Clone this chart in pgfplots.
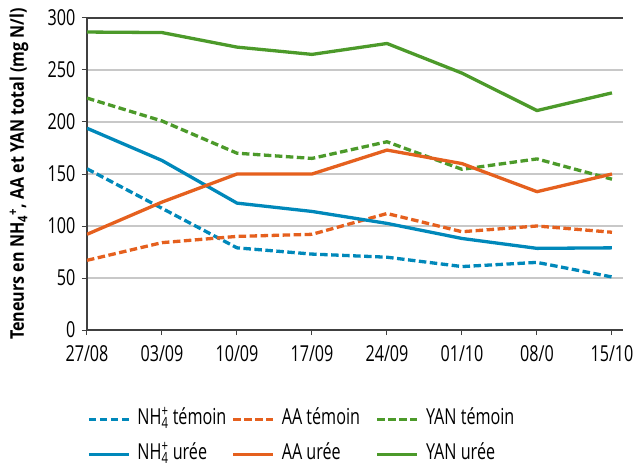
\documentclass[border=0pt]{standalone}
\usepackage{fontspec}
\setmainfont{Open Sans}[FakeStretch=0.735]
\newfontfamily\labfont{Open Sans}[FakeStretch=0.85]
\usepackage{pgfplots}
\pgfplotsset{compat=1.18}
\definecolor{cblue}{RGB}{0,136,186}
\definecolor{corange}{RGB}{229,96,30}
\definecolor{cgreen}{RGB}{76,154,42}
\definecolor{axgray}{RGB}{64,64,64}
\definecolor{grgray}{RGB}{200,200,200}
\newcommand\lent[1]{\makebox[87bp][l]{#1}}
\begin{document}
\begin{tikzpicture}
\path[use as bounding box] (-87bp,-135bp) rectangle (549bp,330bp);
\begin{axis}[
  at={(0,0)}, anchor=south west,
  scale only axis, width=536bp, height=312bp,
  xmin=0, xmax=7.147, ymin=0, ymax=300,
  xtick={0,...,7},
  xticklabels={27/08,03/09,10/09,17/09,24/09,01/10,08/0,15/10},
  ytick={0,50,...,300},
  axis x line*=bottom, axis y line*=left,
  axis line style={axgray, line width=1.4bp},
  tick align=outside, major tick length=5bp,
  tick style={axgray, line width=1bp},
  ymajorgrids, grid style={grgray, line width=1.2bp},
  /pgf/number format/assume math mode=true,
  ticklabel style={font=\fontsize{22bp}{25bp}\selectfont},
  xticklabel style={yshift=-7bp},
  yticklabel style={xshift=-3bp},
  ylabel={\textbf{Teneurs en NH\textsubscript{4}\textsuperscript{+}, AA et YAN total (mg N/l)}},
  ylabel style={at={(axis description cs:-0.1269,0.5)}, anchor=center, font=\labfont\fontsize{18.9bp}{22bp}\selectfont},
  every axis plot/.append style={line width=3.3bp, line join=round, no markers},
  legend columns=3,
  legend style={at={(rel axis cs:0,0)}, anchor=north west, yshift=-80bp,
    draw=none, fill=none, inner sep=0pt, row sep=17bp,
    font=\fontsize{22bp}{25bp}\selectfont,
    nodes={inner sep=0pt, text height=14bp, text depth=4bp, anchor=west},
    /tikz/every odd column/.append style={column sep=7bp},
    /tikz/every even column/.append style={column sep=7bp}},
  legend image code/.code={\draw[#1] (0bp,0bp) -- (40bp,0bp);},
]
\draw[axgray, line width=1.4bp] (rel axis cs:0,1) -- (rel axis cs:1,1);
\addplot[cblue, dash pattern=on 7.5bp off 3.5bp] coordinates {(0,155) (1,117) (2,79) (3,73) (4,70) (5,61) (6,65) (7,51)};
\addlegendentry{\lent{NH\rlap{\textsuperscript{+}}\textsubscript{4} témoin}}
\addplot[corange, dash pattern=on 7.5bp off 3.5bp] coordinates {(0,67) (1,84) (2,90) (3,92) (4,112) (5,94.5) (6,100) (7,94)};
\addlegendentry{\lent{AA témoin}}
\addplot[cgreen, dash pattern=on 7.5bp off 3.5bp] coordinates {(0,223) (1,201) (2,170) (3,165) (4,181) (5,154.5) (6,164.5) (7,145)};
\addlegendentry{\lent{YAN témoin}}
\addplot[cblue] coordinates {(0,194) (1,163) (2,122) (3,114) (4,102.5) (5,88) (6,78.5) (7,79)};
\addlegendentry{\lent{NH\rlap{\textsuperscript{+}}\textsubscript{4} urée}}
\addplot[corange] coordinates {(0,92) (1,123) (2,150) (3,150) (4,173) (5,160) (6,133) (7,150)};
\addlegendentry{\lent{AA urée}}
\addplot[cgreen] coordinates {(0,286.5) (1,286) (2,272) (3,265) (4,275.5) (5,247) (6,211) (7,228)};
\addlegendentry{\lent{YAN urée}}
\end{axis}
\end{tikzpicture}
\end{document}
